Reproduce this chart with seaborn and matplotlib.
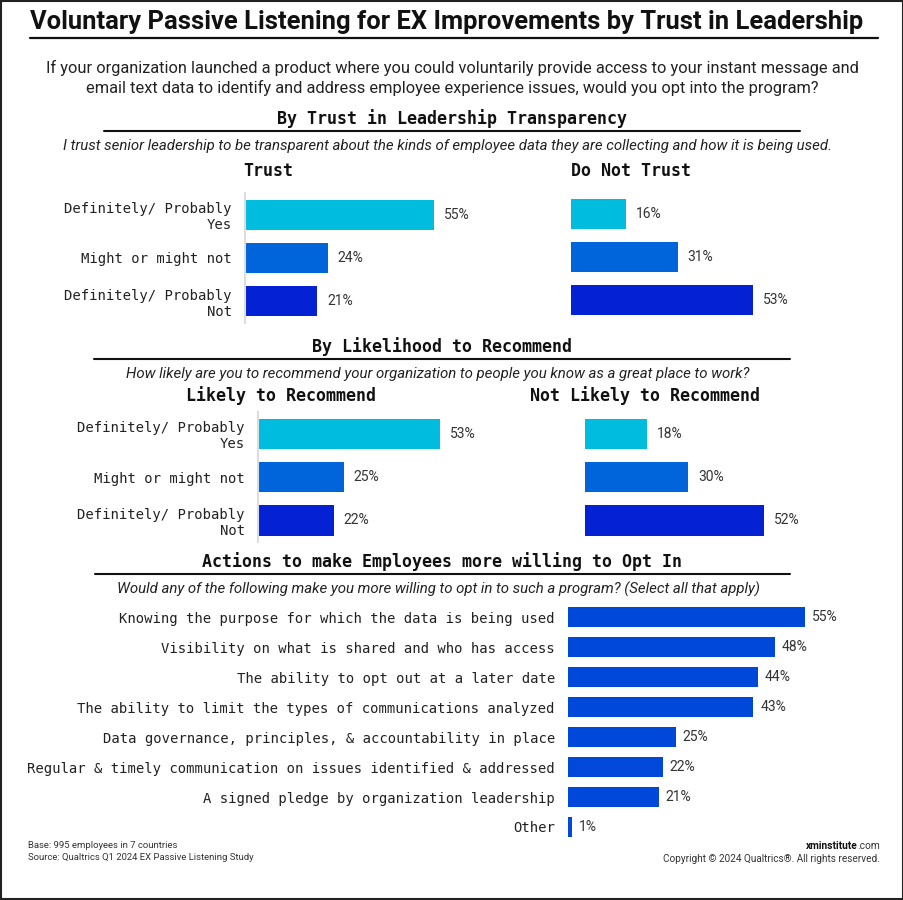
import matplotlib
matplotlib.use("Agg")
import matplotlib.pyplot as plt
import matplotlib.font_manager as fm
from matplotlib.patches import Rectangle
from matplotlib.lines import Line2D
import seaborn as sns

sns.set_theme(style="white")

# Data
answer_labels = ["Definitely/ Probably\nYes", "Might or might not", "Definitely/ Probably\nNot"]
answer_colors = ["#00BDE0", "#0064DB", "#0421D4"]

trust_vals = [55, 24, 21]
no_trust_vals = [16, 31, 53]
likely_vals = [53, 25, 22]
not_likely_vals = [18, 30, 52]

action_labels = [
    "Knowing the purpose for which the data is being used",
    "Visibility on what is shared and who has access",
    "The ability to opt out at a later date",
    "The ability to limit the types of communications analyzed",
    "Data governance, principles, & accountability in place",
    "Regular & timely communication on issues identified & addressed",
    "A signed pledge by organization leadership",
    "Other",
]
action_vals = [55, 48, 44, 43, 25, 22, 21, 1]
action_color = "#0048DA"

available = {f.name for f in fm.fontManager.ttflist}
NARROW = "Liberation Sans Narrow" if "Liberation Sans Narrow" in available else "Roboto"
SANS = "Roboto"
MONO = "DejaVu Sans Mono"

W, H = 904, 900
fig = plt.figure(figsize=(W / 100, H / 100), dpi=100)
fig.patch.set_facecolor("white")


def fx(x):
    return x / W


def fy(y):
    return 1 - y / H


def add_ax(left, top, width, height):
    return fig.add_axes([fx(left), fy(top + height), width / W, height / H])


def hline(x0, x1, y, lw=1.5, color="#111111"):
    fig.add_artist(Line2D([fx(x0), fx(x1)], [fy(y), fy(y)], color=color, lw=lw))


# border
fig.add_artist(Rectangle((0.0015, 0.0015), 0.997, 0.997, fill=False, lw=1.5,
                         edgecolor="#222222", transform=fig.transFigure))

# title + subtitle
fig.text(fx(447), fy(22), "Voluntary Passive Listening for EX Improvements by Trust in Leadership",
         ha="center", va="center", fontsize=18.4, fontweight="bold", family=NARROW, color="#111111")
hline(30, 878, 38, lw=1.6)
fig.text(fx(452), fy(78),
         "If your organization launched a product where you could voluntarily provide access to your instant message and\n"
         "email text data to identify and address employee experience issues, would you opt into the program?",
         ha="center", va="center", fontsize=11.8, family=NARROW, color="#222222", linespacing=1.35)


def section(y, title, sub, x0, x1):
    fig.text(fx((x0 + x1) / 2), fy(y), title, ha="center", va="center",
             fontsize=12, fontweight="bold", family=MONO, color="#111111")
    hline(x0, x1, y + 12)
    fig.text(fx((x0 + x1) / 2 - 4), fy(y + 27), sub, ha="center", va="center",
             fontsize=10.85, style="italic", family=NARROW, color="#222222")


def panel(left, top, vals, show_labels, scale_max=60):
    ax = add_ax(left, top, 3.44 * scale_max, 130)
    sns.barplot(x=vals, y=answer_labels, hue=answer_labels, palette=answer_colors,
                legend=False, width=0.7, linewidth=0, saturation=1, ax=ax, orient="h")
    ax.set_xlim(0, scale_max)
    ax.set_ylim(2.5, -0.5)
    ax.set_xticks([])
    ax.set_xlabel("")
    ax.set_ylabel("")
    sns.despine(ax=ax, left=not show_labels, bottom=True)
    ax.spines["left"].set_color("#dddddd")
    ax.spines["left"].set_linewidth(1.5)
    if show_labels:
        ax.tick_params(axis="y", length=0, pad=9.5, labelsize=10)
        for lab in ax.get_yticklabels():
            lab.set_fontfamily(MONO)
            lab.set_color("#222222")
    else:
        ax.set_yticks([])
    for cont in ax.containers:
        ax.bar_label(cont, labels=[f"{v:.0f}%" for v in cont.datavalues], padding=7,
                     fontsize=10, family=SANS, color="#333333")
    ax.patch.set_alpha(0)
    return ax


# section 1
section(119, "By Trust in Leadership Transparency",
        "I trust senior leadership to be transparent about the kinds of employee data they are collecting and how it is being used.",
        104, 800)
fig.text(fx(243), fy(171), "Trust", ha="left", va="center", fontsize=12,
         fontweight="bold", family=MONO, color="#111111")
fig.text(fx(571), fy(171), "Do Not Trust", ha="left", va="center", fontsize=12,
         fontweight="bold", family=MONO, color="#111111")
panel(245, 193, trust_vals, True)
panel(571, 192, no_trust_vals, False)

# section 2
section(347, "By Likelihood to Recommend",
        "How likely are you to recommend your organization to people you know as a great place to work?",
        94, 790)
fig.text(fx(281), fy(396), "Likely to Recommend", ha="center", va="center", fontsize=12,
         fontweight="bold", family=MONO, color="#111111")
fig.text(fx(645), fy(396), "Not Likely to Recommend", ha="center", va="center", fontsize=12,
         fontweight="bold", family=MONO, color="#111111")
panel(258, 412, likely_vals, True)
panel(585, 412, not_likely_vals, False)

# section 3
section(562, "Actions to make Employees more willing to Opt In",
        "Would any of the following make you more willing to opt in to such a program? (Select all that apply)",
        95, 790)
ax3 = add_ax(568, 602, 4.31 * 60, 240)
sns.barplot(x=action_vals, y=action_labels, color=action_color, width=0.667,
            linewidth=0, saturation=1, ax=ax3, orient="h")
ax3.set_xlim(0, 60)
ax3.set_ylim(len(action_vals) - 0.5, -0.5)
ax3.set_xticks([])
ax3.set_xlabel("")
ax3.set_ylabel("")
sns.despine(ax=ax3, left=True, bottom=True)
ax3.tick_params(axis="y", length=0, pad=9.5, labelsize=10)
for lab in ax3.get_yticklabels():
    lab.set_fontfamily(MONO)
    lab.set_color("#222222")
for cont in ax3.containers:
    ax3.bar_label(cont, labels=[f"{v:.0f}%" for v in cont.datavalues], padding=5,
                  fontsize=10, family=SANS, color="#333333")
ax3.patch.set_alpha(0)

# footer
fig.text(fx(28), fy(846), "Base: 995 employees in 7 countries", ha="left", va="center",
         fontsize=6.8, family=NARROW, color="#333333")
fig.text(fx(28), fy(858), "Source: Qualtrics Q1 2024 EX Passive Listening Study", ha="left", va="center",
         fontsize=6.8, family=NARROW, color="#333333")
com = fig.text(fx(880), fy(846), ".com", ha="right", va="center", fontsize=7.3,
               family=SANS, color="#333333")
fig.canvas.draw()
bb = com.get_window_extent(renderer=fig.canvas.get_renderer())
fig.text(bb.x0 / W, fy(846), "xminstitute", ha="right", va="center", fontsize=7.3,
         fontweight="bold", family=SANS, color="#111111")
fig.text(fx(880), fy(859), "Copyright \u00a9 2024 Qualtrics\u00ae. All rights reserved.", ha="right",
         va="center", fontsize=7.2, family=NARROW, color="#333333")

fig.savefig("out.png", dpi=100)
